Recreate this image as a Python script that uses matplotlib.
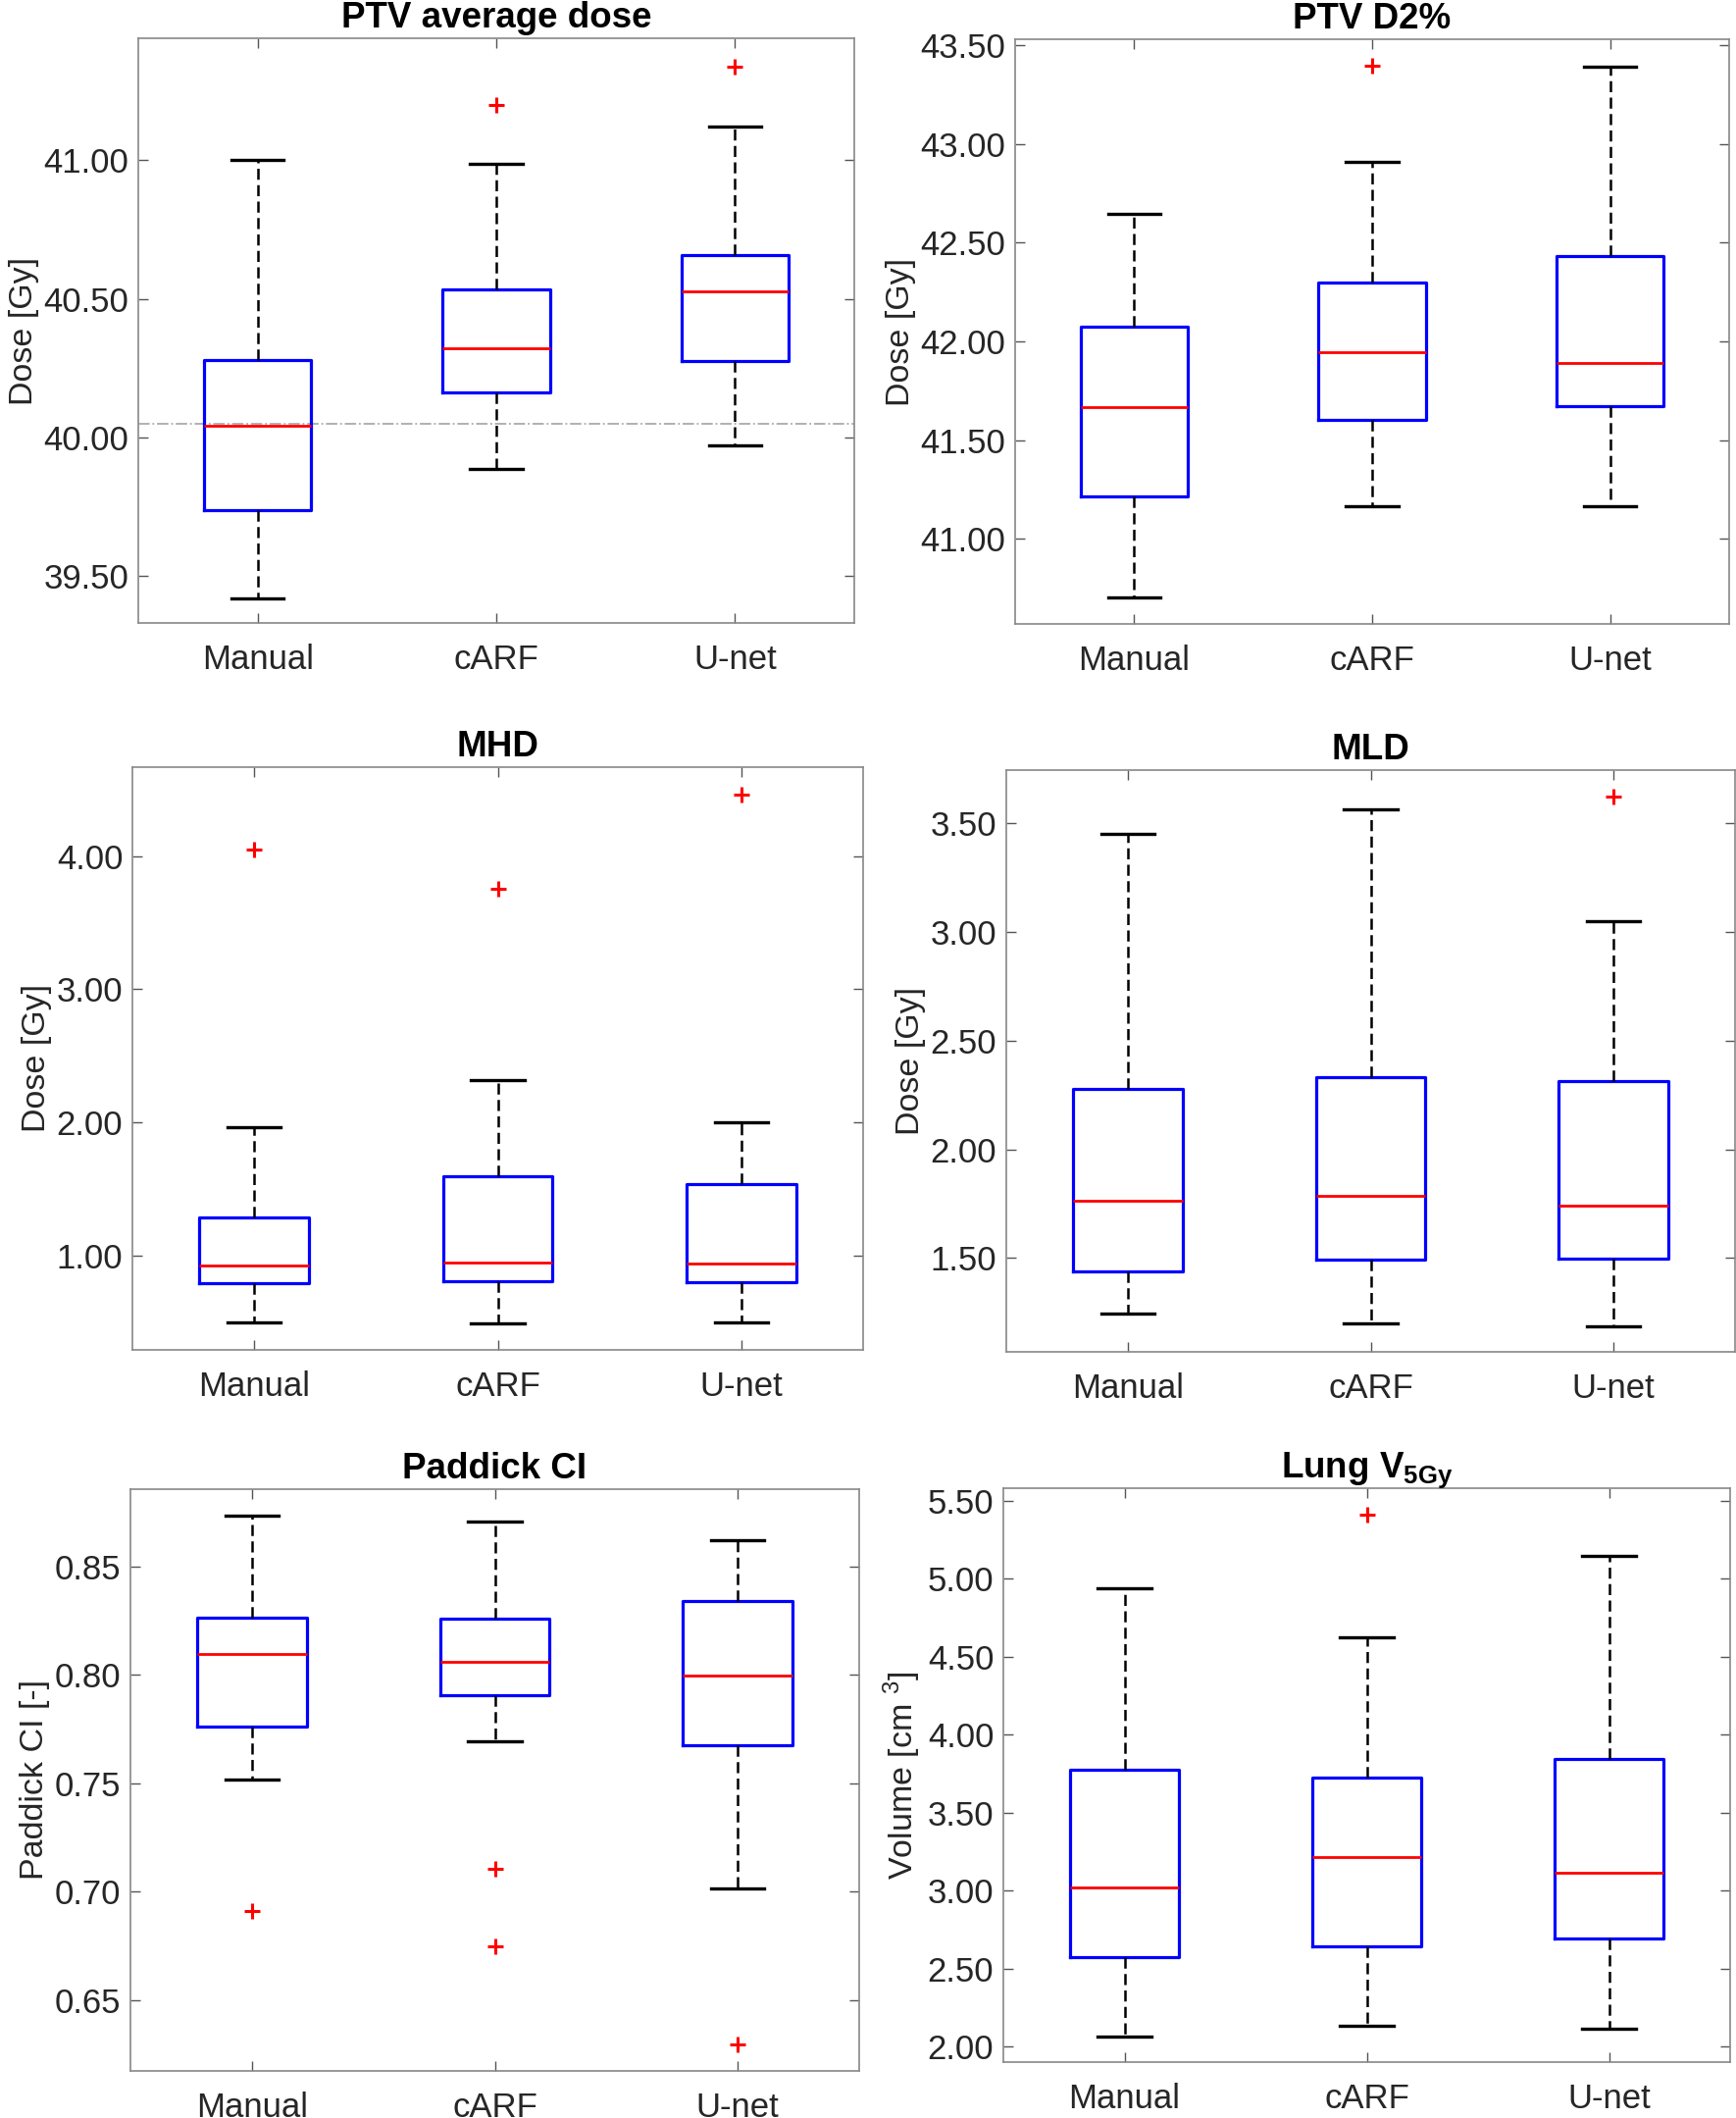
import matplotlib
matplotlib.use("Agg")
import matplotlib.pyplot as plt
from matplotlib.ticker import FormatStrFormatter

plt.rcParams['font.family'] = ['Liberation Sans', 'DejaVu Sans']
plt.rcParams['mathtext.fontset'] = 'custom'
plt.rcParams['mathtext.rm'] = 'Liberation Sans'
plt.rcParams['mathtext.bf'] = 'Liberation Sans:bold'

# groups
groups = ["Manual", "cARF", "U-net"]

# PTV average dose
ptv_mean_lo = [39.418, 39.885, 39.970]
ptv_mean_q1 = [39.736, 40.161, 40.277]
ptv_mean_med = [40.040, 40.323, 40.527]
ptv_mean_q3 = [40.280, 40.533, 40.657]
ptv_mean_hi = [41.000, 40.987, 41.123]
ptv_mean_out = [[], [41.198], [41.337]]
ptv_presc = 40.05

# PTV D2%
ptv_d2_lo = [40.703, 41.164, 41.168]
ptv_d2_q1 = [41.215, 41.605, 41.672]
ptv_d2_med = [41.667, 41.944, 41.891]
ptv_d2_q3 = [42.073, 42.297, 42.434]
ptv_d2_hi = [42.645, 42.908, 43.389]
ptv_d2_out = [[], [43.396], []]

# MHD
mhd_lo = [0.497, 0.490, 0.500]
mhd_q1 = [0.793, 0.806, 0.799]
mhd_med = [0.924, 0.951, 0.938]
mhd_q3 = [1.289, 1.595, 1.539]
mhd_hi = [1.967, 2.316, 2.003]
mhd_out = [[4.046], [3.753], [4.464]]

# MLD
mld_lo = [1.246, 1.202, 1.188]
mld_q1 = [1.438, 1.494, 1.496]
mld_med = [1.762, 1.788, 1.739]
mld_q3 = [2.279, 2.331, 2.315]
mld_hi = [3.450, 3.564, 3.049]
mld_out = [[], [], [3.619]]

# Paddick CI
ci_lo = [0.7518, 0.7694, 0.7012]
ci_q1 = [0.7763, 0.7906, 0.7673]
ci_med = [0.8097, 0.8062, 0.7995]
ci_q3 = [0.8265, 0.8261, 0.8342]
ci_hi = [0.8737, 0.8706, 0.8620]
ci_out = [[0.6909], [0.7104, 0.6747], [0.6292]]

# Lung V5Gy
v5_lo = [2.066, 2.133, 2.115]
v5_q1 = [2.578, 2.644, 2.696]
v5_med = [3.020, 3.216, 3.115]
v5_q3 = [3.778, 3.726, 3.844]
v5_hi = [4.937, 4.622, 5.144]
v5_out = [[], [5.413], []]

W, H = 1770, 2159
fig = plt.figure(figsize=(W / 100, H / 100), dpi=100)


def make_ax(l, t, r, b):
    return fig.add_axes([l / W, 1 - b / H, (r - l) / W, (b - t) / H])


def draw(ax, lo, q1, med, q3, hi, out, title, ylabel, yticks, ylim):
    stats = []
    for i in range(3):
        stats.append(dict(whislo=lo[i], q1=q1[i], med=med[i], q3=q3[i],
                          whishi=hi[i], fliers=out[i], label=groups[i]))
    ax.bxp(stats, positions=[1, 2, 3], widths=0.45, capwidths=0.22,
           boxprops=dict(color='#0000ff', lw=2.3),
           medianprops=dict(color='#ff0000', lw=2.0),
           whiskerprops=dict(color='black', lw=1.8, ls=(0, (4.5, 2.2))),
           capprops=dict(color='black', lw=2.4),
           flierprops=dict(marker='+', markeredgecolor='#ff0000',
                           markersize=11, markeredgewidth=2.2, ls='none'))
    ax.set_xlim(0.5, 3.5)
    ax.set_ylim(*ylim)
    ax.set_yticks(yticks)
    ax.yaxis.set_major_formatter(FormatStrFormatter('%.2f'))
    ax.set_xticks([1, 2, 3])
    ax.set_xticklabels(groups)
    ax.tick_params(direction='in', length=7, width=1, colors='#555555',
                   labelcolor='#262626', labelsize=25, top=True, right=True)
    ax.tick_params(axis='x', pad=15)
    ax.tick_params(axis='y', pad=7)
    for s in ax.spines.values():
        s.set_color('#888888')
        s.set_linewidth(1.2)
    ax.set_title(title, fontsize=26.5, fontweight='bold', pad=8)
    ax.set_ylabel(ylabel, fontsize=24.5, color='#262626', labelpad=3)


ax1 = make_ax(141, 39, 871, 635)
draw(ax1, ptv_mean_lo, ptv_mean_q1, ptv_mean_med, ptv_mean_q3, ptv_mean_hi,
     ptv_mean_out, "PTV average dose", "Dose [Gy]",
     [39.5, 40.0, 40.5, 41.0], (39.33, 41.44))
ax1.axhline(ptv_presc, color='#aaaaaa', ls='-.', lw=1.3, zorder=0)

ax2 = make_ax(1035, 40, 1763, 636)
draw(ax2, ptv_d2_lo, ptv_d2_q1, ptv_d2_med, ptv_d2_q3, ptv_d2_hi,
     ptv_d2_out, "PTV D2%", "Dose [Gy]",
     [41.0, 41.5, 42.0, 42.5, 43.0, 43.5], (40.57, 43.53))

ax3 = make_ax(135, 782, 880, 1376)
draw(ax3, mhd_lo, mhd_q1, mhd_med, mhd_q3, mhd_hi, mhd_out,
     "MHD", "Dose [Gy]", [1, 2, 3, 4], (0.293, 4.668))

ax4 = make_ax(1026, 785, 1769, 1378)
draw(ax4, mld_lo, mld_q1, mld_med, mld_q3, mld_hi, mld_out,
     "MLD", "Dose [Gy]", [1.5, 2.0, 2.5, 3.0, 3.5], (1.069, 3.743))

ax5 = make_ax(133, 1518, 876, 2111)
draw(ax5, ci_lo, ci_q1, ci_med, ci_q3, ci_hi, ci_out,
     "Paddick CI", "Paddick CI [-]", [0.65, 0.70, 0.75, 0.80, 0.85],
     (0.6172, 0.8857))

ax6 = make_ax(1023, 1517, 1764, 2102)
draw(ax6, v5_lo, v5_q1, v5_med, v5_q3, v5_hi, v5_out,
     r"Lung V$_{\mathbf{5Gy}}$", r"Volume [cm $^{3}$]",
     [2.0, 2.5, 3.0, 3.5, 4.0, 4.5, 5.0, 5.5], (1.902, 5.581))

fig.savefig("out.png", dpi=100)
